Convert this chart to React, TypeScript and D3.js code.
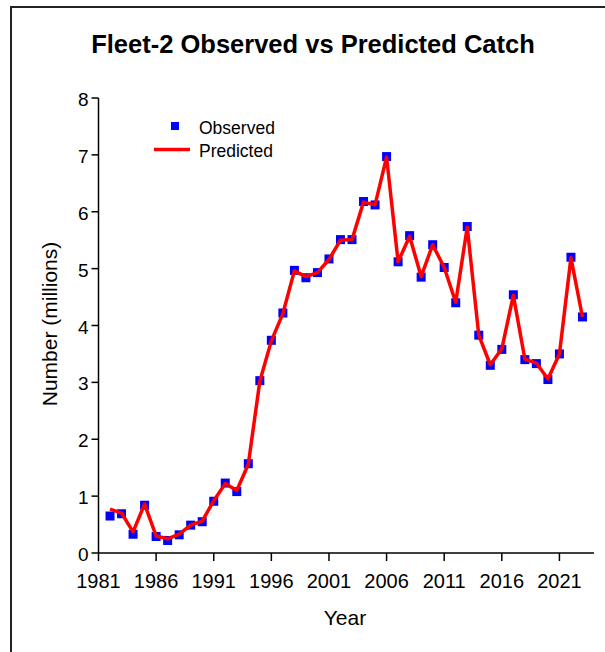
import React from "react";
import * as d3 from "d3";

const years: number[] = d3.range(1982, 2024);
const observed: number[] = [
  0.65, 0.69, 0.33, 0.84, 0.29, 0.22, 0.32, 0.49, 0.55, 0.91,
  1.23, 1.08, 1.57, 3.03, 3.74, 4.22, 4.97, 4.84, 4.93, 5.17,
  5.51, 5.51, 6.18, 6.12, 6.97, 5.12, 5.58, 4.85, 5.42, 5.02,
  4.40, 5.74, 3.83, 3.30, 3.58, 4.54, 3.40, 3.33, 3.05, 3.50,
  5.20, 4.15,
];
const predicted: number[] = [
  0.77, 0.70, 0.37, 0.86, 0.30, 0.25, 0.33, 0.49, 0.56, 0.92,
  1.22, 1.10, 1.56, 3.02, 3.73, 4.21, 4.96, 4.86, 4.93, 5.16,
  5.50, 5.51, 6.17, 6.12, 6.96, 5.12, 5.57, 4.86, 5.42, 5.02,
  4.41, 5.73, 3.83, 3.31, 3.59, 4.53, 3.41, 3.34, 3.06, 3.50,
  5.19, 4.15,
];
const xTicks: number[] = [1981, 1986, 1991, 1996, 2001, 2006, 2011, 2016, 2021];
const yTicks: number[] = [0, 1, 2, 3, 4, 5, 6, 7, 8];

const FONT = "'Liberation Sans', Arial, sans-serif";

export default function App() {
  const x = d3.scaleLinear().domain([1981, 2024]).range([98.5, 594]);
  const y = d3.scaleLinear().domain([0, 8]).range([553, 98]);
  const lineGen = d3
    .line<number>()
    .x((_, i) => x(years[i]))
    .y((d) => y(d));
  const ms = 9;
  return (
    <svg
      width={605}
      height={652}
      style={{ position: "absolute", left: 0, top: 0, background: "#fff" }}
    >
      <rect x={0} y={0} width={605} height={652} fill="#fff" />
      <rect x={11} y={7} width={620} height={700} fill="none" stroke="#222" strokeWidth={2} />
      <text
        x={313}
        y={53}
        textAnchor="middle"
        fontFamily={FONT}
        fontWeight="bold"
        fontSize={25.5}
        fill="#000"
      >
        Fleet-2 Observed vs Predicted Catch
      </text>
      {/* axes */}
      <line x1={x(1981)} x2={x(1981)} y1={y(0)} y2={y(8)} stroke="#000" strokeWidth={1.5} />
      <line x1={x(1981)} x2={x(2024)} y1={y(0)} y2={y(0)} stroke="#000" strokeWidth={1.5} />
      {yTicks.map((t) => (
        <g key={"y" + t}>
          <line x1={x(1981) - 7} x2={x(1981)} y1={y(t)} y2={y(t)} stroke="#000" strokeWidth={1.5} />
          <text
            x={x(1981) - 10}
            y={y(t) + 8}
            textAnchor="end"
            fontFamily={FONT}
            fontSize={19}
            fill="#000"
          >
            {t}
          </text>
        </g>
      ))}
      {xTicks.map((t) => (
        <g key={"x" + t}>
          <line x1={x(t)} x2={x(t)} y1={y(0)} y2={y(0) + 8} stroke="#000" strokeWidth={1.5} />
          <text
            x={x(t)}
            y={y(0) + 35}
            textAnchor="middle"
            fontFamily={FONT}
            fontSize={20}
            fill="#000"
          >
            {t}
          </text>
        </g>
      ))}
      <text
        x={345}
        y={625}
        textAnchor="middle"
        fontFamily={FONT}
        fontSize={21}
        fill="#000"
      >
        Year
      </text>
      <text
        transform={`translate(57,324) rotate(-90)`}
        textAnchor="middle"
        fontFamily={FONT}
        fontSize={21}
        fill="#000"
      >
        Number (millions)
      </text>
      {/* observed markers */}
      {observed.map((v, i) => (
        <rect
          key={"o" + i}
          x={x(years[i]) - ms / 2}
          y={y(v) - ms / 2}
          width={ms}
          height={ms}
          fill="#0000ff"
        />
      ))}
      {/* predicted line */}
      <path
        d={lineGen(predicted) || ""}
        fill="none"
        stroke="#ff0000"
        strokeWidth={3.5}
        strokeLinejoin="round"
      />
      {/* legend */}
      <rect x={171} y={122} width={8} height={8} fill="#0000ff" />
      <line x1={154} x2={190} y1={149.5} y2={149.5} stroke="#ff0000" strokeWidth={3.5} />
      <text x={199} y={134} fontFamily={FONT} fontSize={17.5} fill="#000">
        Observed
      </text>
      <text x={199} y={157} fontFamily={FONT} fontSize={17.5} fill="#000">
        Predicted
      </text>
    </svg>
  );
}
